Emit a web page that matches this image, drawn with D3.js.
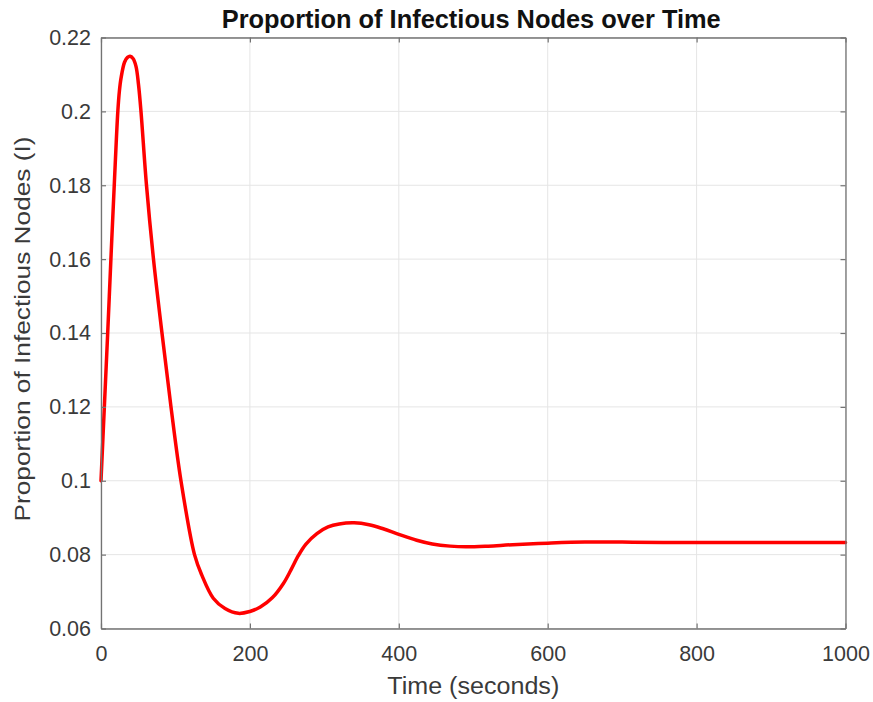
<!DOCTYPE html>
<html>
<head>
<meta charset="utf-8">
<script src="https://cdn.jsdelivr.net/npm/d3@7"></script>
<style>
  html, body { margin: 0; padding: 0; background: #fff; }
  svg { display: block; font-family: "Liberation Sans", Arial, Helvetica, sans-serif; }
</style>
</head>
<body>
<svg id="chart" width="873" height="702"></svg>
<script>
// Simulated proportion of infectious nodes, sampled over time (seconds)
const timeSeconds = [0, 4.5, 9, 13.3, 17.8, 22.6, 24.7, 26.9, 31.6, 35.6, 39, 43, 47, 50.4, 53.7, 61.1, 70.5, 81.9, 94, 107.4, 125.6, 135.3, 150.8, 166.6, 184.4, 200, 214, 230, 245, 255, 265, 275, 290, 305, 320, 340, 360, 379, 400, 424, 445, 469, 490, 520, 553, 600, 650, 700, 755, 850, 1000];
const infectious  = [0.100, 0.120, 0.140, 0.160, 0.180, 0.200, 0.2055, 0.2090, 0.2133, 0.2146, 0.2149, 0.2143, 0.2122, 0.2072, 0.200, 0.180, 0.160, 0.140, 0.120, 0.100, 0.080, 0.0745, 0.0682, 0.0654, 0.0641, 0.0646, 0.0658, 0.0683, 0.0722, 0.0758, 0.0797, 0.0828, 0.0857, 0.0875, 0.0883, 0.0886, 0.0881, 0.0870, 0.0855, 0.0839, 0.0829, 0.0823, 0.0821, 0.0823, 0.0827, 0.0831, 0.0834, 0.0834, 0.0833, 0.0833, 0.0833];

const xTicks = [0, 200, 400, 600, 800, 1000];
const yTicks = [0.06, 0.08, 0.1, 0.12, 0.14, 0.16, 0.18, 0.2, 0.22];

const titleText = "Proportion of Infectious Nodes over Time";
const xLabelText = "Time (seconds)";
const yLabelText = "Proportion of Infectious Nodes (I)";

const svg = d3.select("#chart");
const plotLeft = 101, plotRight = 845.5, plotTop = 37.5, plotBottom = 628.5;

const x = d3.scaleLinear().domain([0, 1000]).range([plotLeft, plotRight]);
const y = d3.scaleLinear().domain([0.06, 0.22]).range([plotBottom, plotTop]);

const axisColor = "#737373";
const textColor = "#3a3a3a";

// grid
const grid = svg.append("g");
grid.selectAll("line.gx").data(xTicks).join("line")
  .attr("class", "gx")
  .attr("x1", d => x(d)).attr("x2", d => x(d))
  .attr("y1", plotTop).attr("y2", plotBottom)
  .attr("stroke", "#e5e5e5").attr("stroke-width", 1);
grid.selectAll("line.gy").data(yTicks).join("line")
  .attr("class", "gy")
  .attr("y1", d => y(d)).attr("y2", d => y(d))
  .attr("x1", plotLeft).attr("x2", plotRight)
  .attr("stroke", "#e5e5e5").attr("stroke-width", 1);

// data line
const line = d3.line()
  .x((d, i) => x(timeSeconds[i]))
  .y(d => y(d))
  .curve(d3.curveCatmullRom.alpha(0.5));

svg.append("path")
  .datum(infectious)
  .attr("d", line)
  .attr("fill", "none")
  .attr("stroke", "#ff0000")
  .attr("stroke-width", 3.5)
  .attr("stroke-linejoin", "round")
  .attr("stroke-linecap", "round");

// axes (boxed, ticks pointing inward)
const fmtX = d3.format("d");
const fmtY = d => String(+d.toFixed(2));

const xBottom = d3.axisBottom(x).tickValues(xTicks).tickSizeInner(-5).tickSizeOuter(0).tickPadding(17).tickFormat(fmtX);
const xTop = d3.axisTop(x).tickValues(xTicks).tickSizeInner(-5).tickSizeOuter(0).tickFormat("");
const yLeft = d3.axisLeft(y).tickValues(yTicks).tickSizeInner(-5).tickSizeOuter(0).tickPadding(10).tickFormat(fmtY);
const yRight = d3.axisRight(y).tickValues(yTicks).tickSizeInner(-5).tickSizeOuter(0).tickFormat("");

function styleAxis(g) {
  g.select(".domain").attr("stroke", axisColor).attr("stroke-width", 1.3);
  g.selectAll(".tick line").attr("stroke", axisColor).attr("stroke-width", 1.2);
  g.selectAll(".tick text").attr("fill", textColor).style("font-size", "21.5px")
    .style("font-family", '"Liberation Sans", Arial, sans-serif');
}

svg.append("g").attr("transform", `translate(0,${plotBottom})`).call(xBottom).call(styleAxis);
svg.append("g").attr("transform", `translate(0,${plotTop})`).call(xTop).call(styleAxis);
svg.append("g").attr("transform", `translate(${plotLeft},0)`).call(yLeft).call(styleAxis);
svg.append("g").attr("transform", `translate(${plotRight},0)`).call(yRight).call(styleAxis);

// title and labels
svg.append("text")
  .attr("x", (plotLeft + plotRight) / 2 - 2).attr("y", 28)
  .attr("text-anchor", "middle")
  .attr("fill", "#111")
  .style("font-size", "25.4px").style("font-weight", "bold")
  .text(titleText);

svg.append("text")
  .attr("x", (plotLeft + plotRight) / 2).attr("y", 694)
  .attr("text-anchor", "middle")
  .attr("fill", textColor)
  .attr("textLength", 172)
  .attr("lengthAdjust", "spacingAndGlyphs")
  .style("font-size", "23px")
  .text(xLabelText);

svg.append("text")
  .attr("transform", `translate(30,${(plotTop + plotBottom) / 2 - 4}) rotate(-90)`)
  .attr("text-anchor", "middle")
  .attr("fill", textColor)
  .attr("textLength", 385)
  .attr("lengthAdjust", "spacingAndGlyphs")
  .style("font-size", "22px")
  .text(yLabelText);
</script>
</body>
</html>
